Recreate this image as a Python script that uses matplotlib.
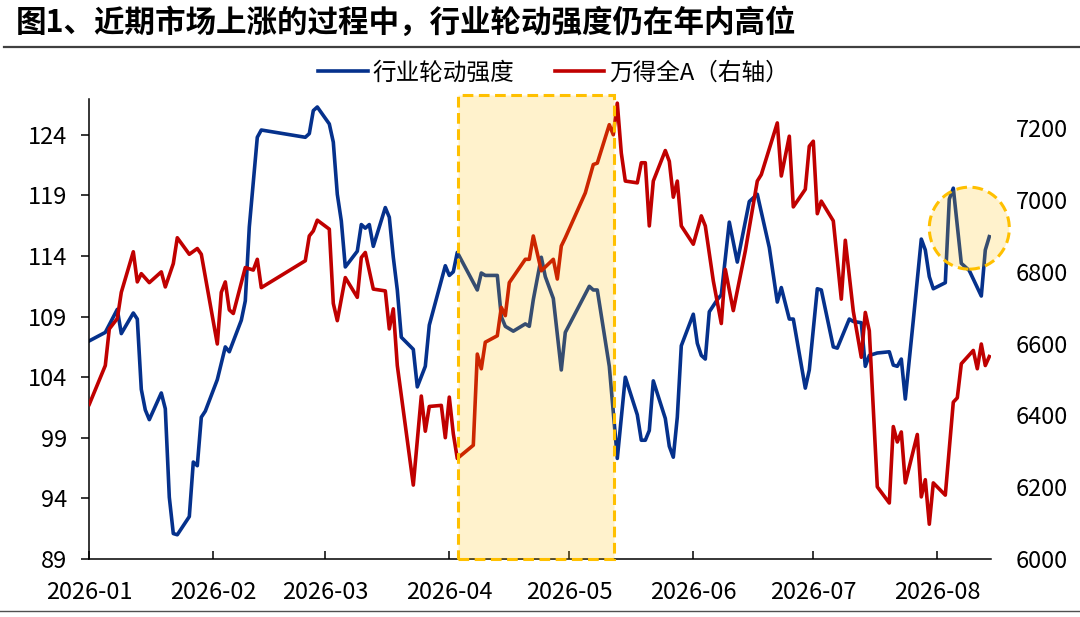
import numpy as np
import pandas as pd
import matplotlib
matplotlib.use('Agg')
import matplotlib.pyplot as plt
import matplotlib.dates as mdates
from matplotlib.patches import Rectangle, Ellipse
from matplotlib.lines import Line2D

plt.rcParams['font.family'] = ['Noto Sans CJK SC', 'DejaVu Sans']

# 行业轮动强度 (left axis)
rot_dates = [
    '01-01', '01-05', '01-08', '01-09', '01-12', '01-13', '01-14', '01-15', '01-16', '01-19',
    '01-20', '01-21', '01-22', '01-23', '01-26', '01-27', '01-28', '01-29', '01-30', '02-02',
    '02-04', '02-05', '02-08', '02-09', '02-10', '02-12', '02-13', '02-24', '02-25', '02-26',
    '02-27', '03-02', '03-03', '03-04', '03-05', '03-06', '03-09', '03-10', '03-11', '03-12',
    '03-13', '03-16', '03-17', '03-18', '03-19', '03-20', '03-23', '03-24', '03-26', '03-27',
    '03-31', '04-01', '04-02', '04-03', '04-08', '04-09', '04-10', '04-13', '04-14', '04-15',
    '04-17', '04-20', '04-21', '04-22', '04-24', '04-25', '04-27', '04-29', '04-30', '05-06',
    '05-07', '05-08', '05-11', '05-13', '05-15', '05-18', '05-19', '05-20', '05-21', '05-22',
    '05-25', '05-26', '05-27', '05-28', '05-29', '06-01', '06-02', '06-03', '06-04', '06-05',
    '06-07', '06-08', '06-10', '06-12', '06-15', '06-17', '06-20', '06-22', '06-23', '06-25',
    '06-26', '06-29', '06-30', '07-02', '07-03', '07-06', '07-07', '07-10', '07-11', '07-13',
    '07-14', '07-15', '07-17', '07-20', '07-21', '07-22', '07-23', '07-24', '07-26', '07-28',
    '07-29', '07-30', '07-31', '08-03', '08-04', '08-05', '08-07', '08-09', '08-12', '08-13',
    '08-14',
]
rot_values = [
    107.0, 107.7, 109.6, 107.6, 109.3, 108.8, 103.0, 101.3, 100.5, 102.7,
    101.4, 94.1, 91.1, 91.0, 92.5, 97.0, 96.7, 100.7, 101.2, 103.8,
    106.5, 106.1, 108.7, 110.3, 116.4, 123.8, 124.4, 123.8, 124.1, 126.0,
    126.3, 124.9, 123.4, 119.1, 116.9, 113.1, 114.4, 116.6, 116.3, 116.6,
    114.8, 118.0, 117.2, 113.9, 111.2, 107.3, 106.3, 103.2, 104.9, 108.3,
    113.2, 112.4, 112.7, 114.3, 111.2, 112.6, 112.4, 112.4, 109.0, 108.2,
    107.8, 108.4, 108.2, 110.4, 113.9, 112.3, 110.5, 104.6, 107.7, 111.5,
    111.2, 111.2, 104.9, 97.3, 104.0, 100.9, 98.8, 98.8, 99.6, 103.7,
    100.6, 98.3, 97.4, 100.7, 106.6, 109.2, 106.8, 105.8, 105.5, 109.4,
    110.4, 110.8, 116.8, 113.5, 118.5, 119.1, 114.7, 110.2, 111.4, 108.8,
    108.8, 103.1, 104.6, 111.3, 111.2, 106.5, 106.4, 108.8, 108.6, 108.5,
    104.9, 105.8, 106.0, 106.1, 105.0, 104.9, 105.5, 102.2, 108.7, 115.4,
    114.5, 112.3, 111.3, 111.8, 118.7, 119.6, 113.4, 112.8, 110.7, 114.5,
    115.6,
]

# 万得全A (right axis)
wind_dates = [
    '01-01', '01-05', '01-06', '01-08', '01-09', '01-12', '01-13', '01-14', '01-16', '01-19',
    '01-20', '01-22', '01-23', '01-26', '01-28', '01-29', '02-02', '02-03', '02-04', '02-05',
    '02-06', '02-09', '02-11', '02-12', '02-13', '02-24', '02-25', '02-26', '02-27', '03-02',
    '03-03', '03-04', '03-06', '03-09', '03-10', '03-11', '03-13', '03-16', '03-17', '03-18',
    '03-19', '03-23', '03-25', '03-26', '03-27', '03-30', '03-31', '04-01', '04-02', '04-03',
    '04-07', '04-08', '04-09', '04-10', '04-13', '04-14', '04-15', '04-16', '04-20', '04-21',
    '04-22', '04-24', '04-27', '04-28', '04-29', '04-30', '05-05', '05-07', '05-08', '05-11',
    '05-12', '05-13', '05-14', '05-15', '05-18', '05-19', '05-20', '05-21', '05-22', '05-25',
    '05-26', '05-27', '05-28', '05-29', '06-01', '06-03', '06-04', '06-06', '06-08', '06-09',
    '06-11', '06-14', '06-17', '06-18', '06-22', '06-23', '06-25', '06-26', '06-29', '06-30',
    '07-01', '07-02', '07-03', '07-06', '07-08', '07-09', '07-11', '07-13', '07-14', '07-15',
    '07-17', '07-20', '07-21', '07-22', '07-23', '07-24', '07-27', '07-28', '07-29', '07-30',
    '07-31', '08-03', '08-05', '08-06', '08-07', '08-10', '08-11', '08-12', '08-13', '08-14',
]
wind_values = [
    6431, 6539, 6641, 6670, 6743, 6856, 6772, 6795, 6770, 6800,
    6758, 6823, 6895, 6849, 6865, 6849, 6599, 6743, 6772, 6694,
    6684, 6812, 6805, 6835, 6756, 6831, 6900, 6914, 6944, 6919,
    6712, 6664, 6784, 6729, 6840, 6854, 6752, 6747, 6641, 6697,
    6539, 6206, 6454, 6356, 6425, 6428, 6338, 6451, 6349, 6280,
    6317, 6571, 6530, 6604, 6622, 6701, 6678, 6770, 6835, 6835,
    6900, 6803, 6835, 6780, 6872, 6895, 7020, 7099, 7103, 7210,
    7182, 7270, 7131, 7053, 7048, 7104, 7104, 6928, 7053, 7138,
    7108, 7008, 7053, 6928, 6877, 6956, 6928, 6775, 6656, 6807,
    6692, 6858, 7053, 7071, 7215, 7067, 7178, 6981, 7030, 7150,
    7164, 6962, 6997, 6942, 6724, 6888, 6690, 6562, 6687, 6636,
    6201, 6156, 6369, 6326, 6354, 6212, 6347, 6173, 6221, 6097,
    6212, 6178, 6437, 6449, 6544, 6581, 6530, 6599, 6539, 6564,
]

left_ticks = [89, 94, 99, 104, 109, 114, 119, 124]
right_ticks = [6000, 6200, 6400, 6600, 6800, 7000, 7200]
month_ticks = ['2026-01', '2026-02', '2026-03', '2026-04', '2026-05', '2026-06', '2026-07', '2026-08']

title = '图1、近期市场上涨的过程中，行业轮动强度仍在年内高位'
label_rot = '行业轮动强度'
label_wind = '万得全A（右轴）'

hl_start = '2026-04-03 07:00'
hl_end = '2026-05-12 05:00'
circle_center = ('2026-08-09', 116.3)

BLUE = '#05318C'
RED = '#C00000'
GOLD = '#FFC000'

rot_x = pd.to_datetime(['2026-' + d for d in rot_dates])
wind_x = pd.to_datetime(['2026-' + d for d in wind_dates])

W, H = 1080, 617
fig = plt.figure(figsize=(W / 100, H / 100), dpi=100)
ax_l, ax_r, ax_b, ax_t = 89.3, 990.7, 559.0, 98.5
ax = fig.add_axes([ax_l / W, 1 - ax_b / H, (ax_r - ax_l) / W, (ax_b - ax_t) / H])
ax2 = ax.twinx()

ax.plot(rot_x, rot_values, color=BLUE, lw=2.6, solid_joinstyle='round')
ax2.plot(wind_x, wind_values, color=RED, lw=2.6, solid_joinstyle='round')

ax.set_ylim(89, 127)
ax2.set_ylim(6000, 7283)
x0 = mdates.date2num(pd.Timestamp('2026-01-01'))
ax.set_xlim(x0, x0 + 225.35)

ax.set_yticks(left_ticks)
ax2.set_yticks(right_ticks)
ax.set_xticks(pd.to_datetime(month_ticks))
ax.xaxis.set_major_formatter(mdates.DateFormatter('%Y-%m'))

for s in ['top', 'right']:
    ax.spines[s].set_visible(False)
for s in ax2.spines.values():
    s.set_visible(False)
ax.spines['left'].set_linewidth(1.1)
ax.spines['bottom'].set_linewidth(1.1)

ax.tick_params(axis='y', direction='out', length=6, width=1.1, labelsize=17, pad=10)
ax.tick_params(axis='x', direction='in', length=5.5, width=1.1, labelsize=17, pad=16)
ax2.tick_params(axis='y', length=0, labelsize=17, pad=18)

# translucent highlight over the lines
xs = mdates.date2num(pd.Timestamp(hl_start))
xe = mdates.date2num(pd.Timestamp(hl_end))
trans = matplotlib.transforms.blended_transform_factory(ax2.transData, ax2.transAxes)
rect = Rectangle((xs, 0), xe - xs, 1.007, transform=trans,
                 facecolor=(1, 0.753, 0, 0.2), edgecolor=GOLD, lw=2.2,
                 linestyle=(0, (3.5, 1.8)), zorder=10, clip_on=False)
ax2.add_patch(rect)

cx = mdates.date2num(pd.Timestamp(circle_center[0]))
cpix = ax.transData.transform((cx, circle_center[1]))
cax = ax.transAxes.inverted().transform(cpix)
circ = Ellipse(cax, 80 / (ax_r - ax_l), 82 / (ax_b - ax_t), transform=ax2.transAxes,
               facecolor=(1, 0.753, 0, 0.2), edgecolor=GOLD, lw=2.2,
               linestyle=(0, (3.5, 1.8)), zorder=10, clip_on=False)
ax2.add_patch(circ)

handles = [Line2D([], [], color=BLUE, lw=2.6), Line2D([], [], color=RED, lw=2.6)]
fig.legend(handles, [label_rot, label_wind], loc='center', bbox_to_anchor=(0.5125, 1 - 73 / H),
           ncol=2, frameon=False, fontsize=17, handlelength=2.1, handletextpad=0.2,
           columnspacing=1.7)

fig.text(16 / W, 1 - 23 / H, title, fontsize=22, fontweight='bold', va='center', ha='left')
fig.add_artist(Line2D([0.004, 1.0], [1 - 47 / H, 1 - 47 / H], color='#404040', lw=1.6))
fig.add_artist(Line2D([0.0, 1.0], [1 - 611 / H, 1 - 611 / H], color='#505050', lw=1.0))

fig.savefig('out.png', dpi=100)
